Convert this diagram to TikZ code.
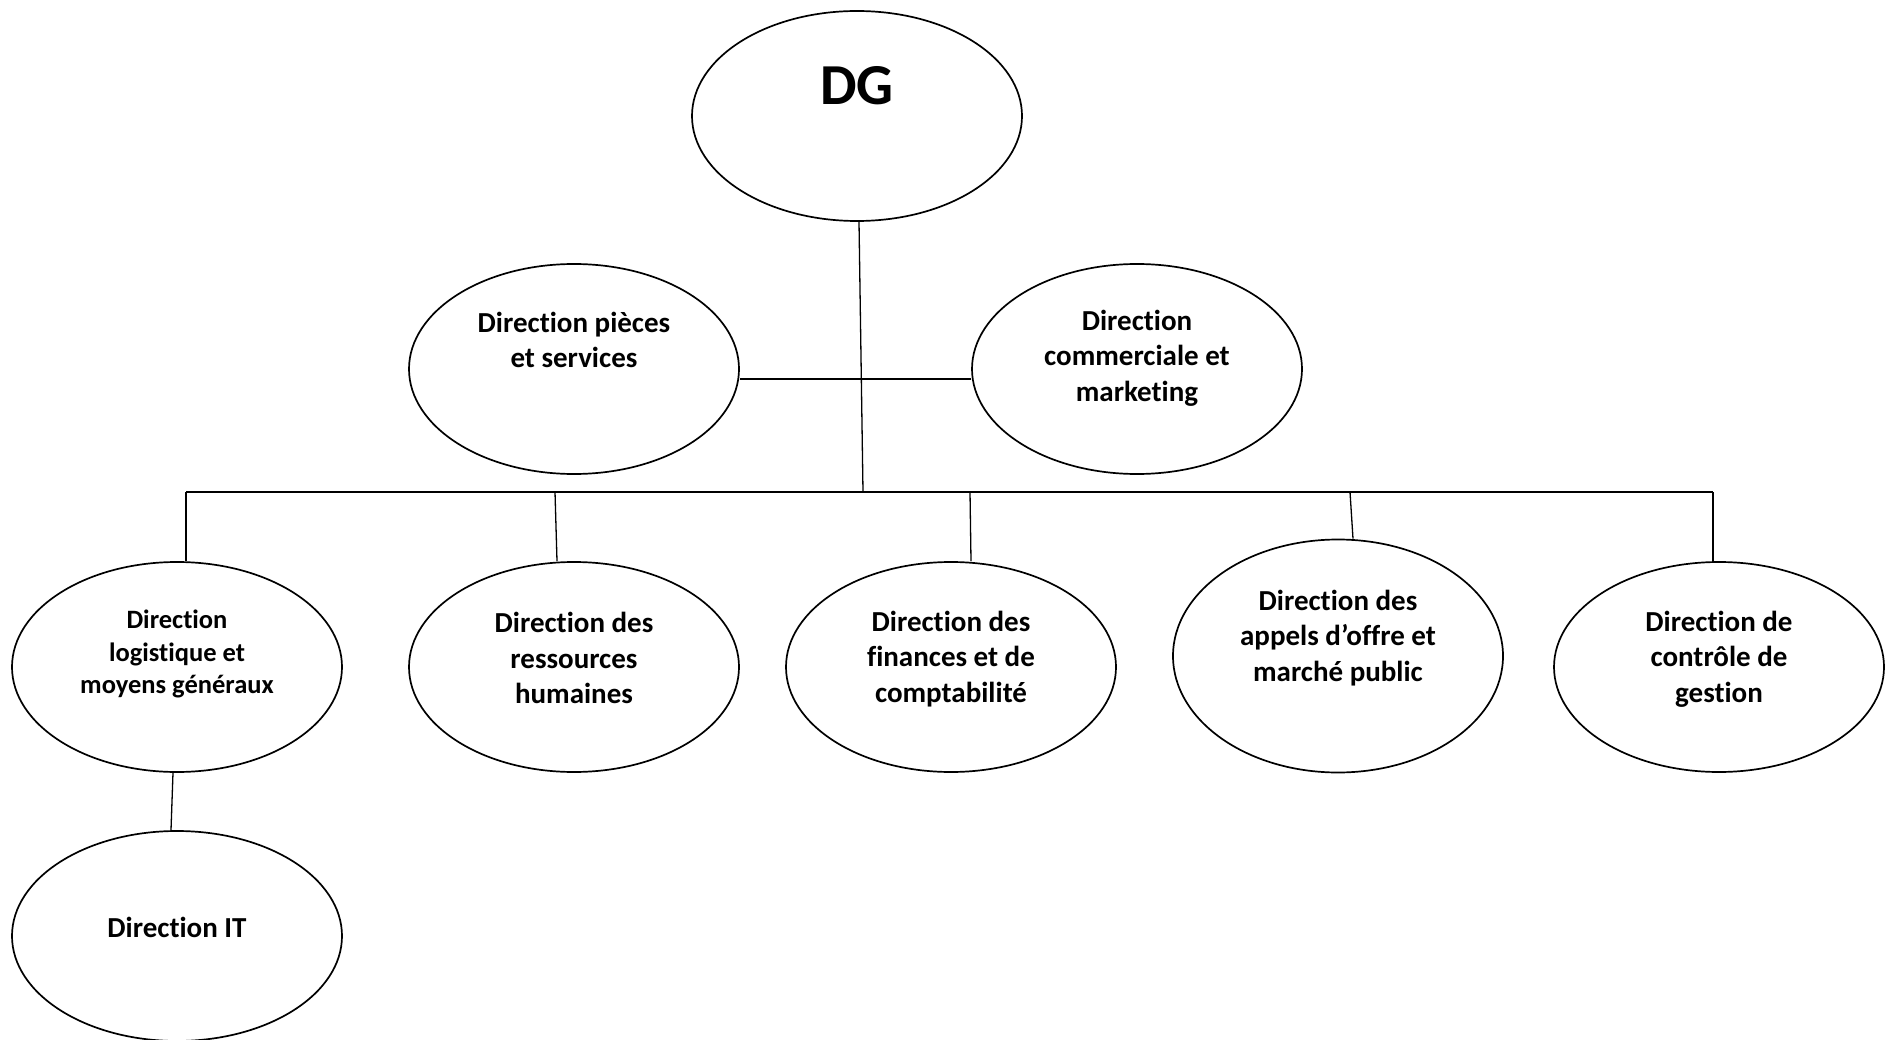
\documentclass[tikz,border=0pt]{standalone}
\usepackage{fontspec}
\setmainfont{Carlito}[Ligatures={NoCommon}]
\usetikzlibrary{shapes.geometric}
\begin{document}
\begin{tikzpicture}[x=1pt,y=-1pt,
  oval/.style={draw=black,line width=1.7pt,ellipse,inner sep=0pt,minimum width=330pt,minimum height=210pt},
  lbl/.style={align=center,inner sep=0pt,font=\fontsize{29}{35.5}\selectfont\bfseries},
  lblsmall/.style={align=center,inner sep=0pt,font=\fontsize{26.5}{32.5}\selectfont\bfseries},
  conn/.style={draw=black,line width=1.3pt},
  connthick/.style={draw=black,line width=2.2pt}]
\useasboundingbox (0,0) rectangle (1892,1040);
% ellipses
\node[oval] (dg) at (857,116) {};
\node[oval] (pieces) at (574,369) {};
\node[oval] (comm) at (1137,369) {};
\node[oval] (logi) at (177,667) {};
\node[oval] (rh) at (574,667) {};
\node[oval] (fin) at (951,667) {};
\node[oval,minimum height=233pt] (appels) at (1338,656) {};
\node[oval] (ctrl) at (1719,667) {};
\node[oval] (it) at (177,936) {};
% texts
\node[inner sep=0pt,font=\fontsize{58}{60}\selectfont\bfseries] (tdg) at (857,86) {DG};
\node[lbl] (tpieces) at (574,340) {Direction pièces\\et services};
\node[lbl] (tcomm) at (1137,358) {Direction\\commerciale et\\marketing};
\node[lblsmall] (tlogi) at (177,654) {Direction\\logistique et\\moyens généraux};
\node[lbl] (trh) at (574,658) {Direction des\\ressources\\humaines};
\node[lbl] (tfin) at (951,659) {Direction des\\finances et de\\comptabilité};
\node[lbl] (tappels) at (1338,638) {Direction des\\appels d’offre et\\marché public};
\node[lbl] (tctrl) at (1719,659) {Direction de\\contrôle de\\gestion};
\node[lbl] (tit) at (177,927) {Direction IT};
% bus coordinates
\coordinate (busL) at (186,492);
\coordinate (busR) at (1713,492);
\coordinate (bus0) at (863,492);
\coordinate (b2) at (555,492);
\coordinate (b3) at (970,492);
\coordinate (b4) at (1350,492);
% connectors
\draw[conn] ([xshift=2pt]dg.south) -- (bus0);
\draw[connthick] ([yshift=-10pt]pieces.east) -- ([yshift=-10pt]comm.west);
\draw[connthick] (busL) -- (busR);
\draw[conn] (busL) -- ([xshift=9pt]logi.north);
\draw[conn] (b2) -- ([xshift=-17pt]rh.north);
\draw[conn] (b3) -- ([xshift=20pt]fin.north);
\draw[conn] (b4) -- ([xshift=15pt]appels.north);
\draw[conn] (busR) -- ([xshift=-6pt]ctrl.north);
\draw[conn] ([xshift=-4pt]logi.south) -- ([xshift=-6pt]it.north);
\end{tikzpicture}
\end{document}
